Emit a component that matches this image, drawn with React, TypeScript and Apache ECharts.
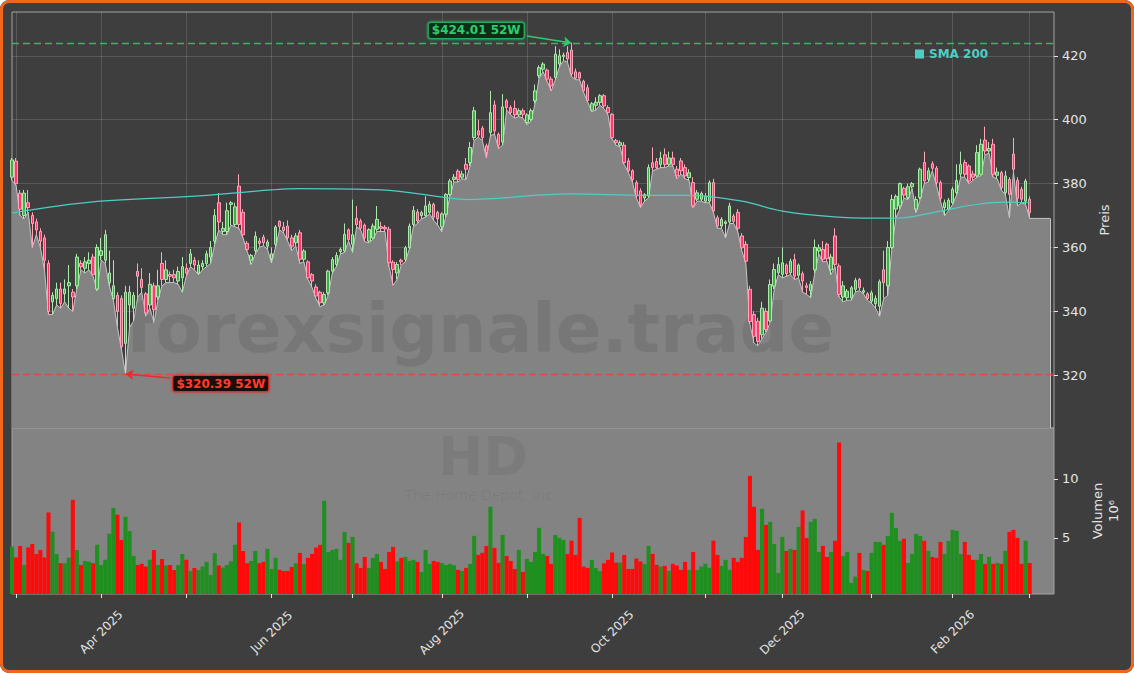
import React, { useEffect, useRef } from 'react';
import * as echarts from 'echarts';

// ---------------- DATA ----------------
const START_DATE = '2025-02-28';
const HOLIDAYS = ['2025-04-18', '2025-05-26', '2025-06-19', '2025-07-04', '2025-09-01', '2025-11-27', '2025-12-25', '2026-01-01', '2026-01-19', '2026-02-16'];
const EXTRA_SLOTS = 6; // empty trading-day slots after the last candle
const AREA_EXTENSION = 5; // flat area continuation after last candle

// [open, close, low, high]
const ohlc: [number, number, number, number][] = [
  [382, 387.4, 381, 388],
  [387, 380, 379.5, 388], [377, 372, 370, 378], [370, 377, 369, 378], [374, 372.5, 371, 378], [370, 367.5, 360, 371],
  [368, 365.5, 364, 369], [365, 362, 360, 366], [363, 356, 353, 364], [355, 340, 339, 356], [343, 345, 339, 346],
  [344, 347, 342, 349], [347, 342.5, 341, 349], [345.5, 347, 343, 350], [348, 349, 341, 354.5], [346, 344.5, 340, 347],
  [348, 357, 347, 358], [355, 354, 353, 356], [353.5, 355.5, 352, 357], [355, 356, 353, 358.5], [357, 351.5, 351, 358],
  [347, 360, 346.5, 361], [357.5, 359, 356, 363], [356, 364, 355, 365.5], [349, 352, 348, 359], [344, 348, 343.5, 356],
  [345, 340, 335, 346], [344, 329, 328, 345], [330, 346, 320.39, 348], [342, 346, 335, 348], [341, 345, 337, 346],
  [352.5, 351, 344.5, 355], [350, 347.5, 346, 353.5], [345.5, 339.5, 338.5, 346], [342, 348.5, 341, 352], [348, 340.5, 336.5, 349],
  [344.5, 348, 343.5, 353], [355, 350, 348, 358.5], [350, 353, 349, 356], [351.5, 351, 349, 352.5], [351.5, 350.5, 349, 353],
  [349.5, 352.5, 348.5, 354], [350.5, 354, 346, 357], [353.5, 352, 351, 355], [355, 358, 354, 359.5], [356, 354.5, 353, 357],
  [352, 354.5, 351.5, 356], [354, 355, 353, 356], [355, 358, 354, 359], [357, 360, 355, 362], [362, 370, 361, 372],
  [374, 368, 365.5, 377], [365, 366, 364, 368], [365, 371.5, 364, 374], [373.5, 374, 367, 374.5], [367.2, 372.7, 366.5, 374],
  [379.2, 367.2, 366, 382.9], [371, 364, 363, 372], [361.3, 359.4, 358.9, 362], [356, 357.5, 354.7, 358], [359, 363.5, 358, 365],
  [362, 361.3, 360, 363], [363.2, 361.5, 360.5, 364], [360.4, 361.7, 359.5, 362.5], [356.5, 358, 355.2, 360], [361, 366.4, 360, 367],
  [368.2, 366.6, 365.5, 368.5], [366.4, 365.3, 364.5, 368], [366.7, 363, 362, 368.5], [363, 360.4, 359, 364], [361.5, 363.6, 360.5, 364.5],
  [364.6, 356.3, 355, 365.5], [356.3, 358.9, 355.5, 359.5], [355.5, 350.5, 350, 356], [351.5, 349.5, 347.5, 352], [347.6, 344.8, 344, 348.5],
  [346, 342.7, 341.5, 346.5], [342.7, 345.3, 342, 346], [345.8, 352.6, 345, 353], [352.6, 356.2, 352, 357], [354.7, 357.5, 354, 358.5],
  [358.7, 359.4, 358, 360], [358.9, 364.1, 358.5, 367.5], [365.5, 362.5, 362, 366], [361, 364, 358.5, 375], [369.1, 367.2, 366.5, 373],
  [368.3, 366, 365.5, 369], [367, 363, 361.8, 367.5], [362, 365.6, 361.5, 366], [363, 366.7, 362.5, 367.5], [365.7, 368.8, 365, 373],
  [366.5, 366, 365, 368], [366.3, 365.8, 365, 367], [365.7, 355.2, 354, 366.5], [355.4, 353.1, 348.2, 356], [352, 354.7, 350, 355.5],
  [356, 355.5, 354.5, 356.5], [356.3, 359.9, 355.5, 360.5], [359.9, 366.7, 359.5, 367.5], [367.2, 371.6, 366.5, 373], [371.1, 368.3, 367.5, 372],
  [370, 370.9, 369, 371.5], [370, 373, 369.5, 376], [371, 373.5, 370.5, 374.5], [373.5, 369.5, 368.5, 374], [371, 369, 367, 371.5],
  [366.5, 370.5, 365, 371], [370.4, 376.6, 369.5, 377], [376.6, 380.8, 376, 381.5], [381.3, 382, 380.5, 383], [383.9, 381.3, 380.5, 384.5],
  [382, 383, 381.5, 384], [386, 384.5, 381.3, 388], [386.6, 391.3, 385.5, 393], [394.4, 402.8, 393.5, 404], [396.5, 395.2, 394.5, 400],
  [397.3, 394.4, 393.5, 398], [391.8, 389.7, 388, 392.5], [396, 402.2, 395, 409], [404.6, 396.5, 395.5, 406], [395.4, 392, 391, 396],
  [393, 404, 392, 408], [405.9, 403.8, 403, 406.5], [403.8, 402.2, 401.5, 404.5], [403.5, 401.5, 400.5, 406], [401.5, 402.8, 401, 403.5],
  [402.8, 401.7, 400.5, 403.5], [399.1, 401.5, 398.5, 402], [400.1, 402.8, 399.5, 403.5], [405.9, 409, 405, 411], [413.7, 416.3, 413, 417],
  [415.8, 417.4, 415, 418], [415.5, 412.7, 412, 416], [412.7, 410.6, 409, 413.5], [413.2, 420.5, 412.5, 423], [417.4, 420, 416.5, 422],
  [419.8, 420.2, 418.5, 421], [421, 419, 418, 423], [421.8, 414.3, 413.5, 424.01], [415, 413, 412.5, 416], [414.7, 413, 412.5, 415],
  [412, 409, 408.5, 412.5], [410, 406, 405.5, 411], [403, 405, 402.5, 405.5], [404.5, 405.5, 403, 407], [405.4, 407.5, 404.5, 408],
  [407.5, 404.3, 403.5, 408], [403.8, 402.2, 401.5, 404.5], [401.7, 394.4, 394, 402], [393.5, 392.8, 392, 394], [392, 392.8, 391.5, 393.5],
  [392, 386.6, 386, 393], [387.1, 384, 383.5, 388], [384, 381.3, 380.5, 384.5], [380.3, 376.1, 375.5, 381], [377.7, 373.5, 372.5, 378.5],
  [375.5, 376.6, 374.5, 377], [376.1, 385, 375.5, 386], [386.5, 385, 384, 391.3], [386.9, 385, 384.5, 388], [386, 388, 385, 390],
  [389, 386, 385, 391], [386, 388, 385.5, 390], [388, 386, 385.5, 390], [384.5, 382.4, 381.5, 385.5], [387.1, 384, 383, 388],
  [385, 382.4, 381.5, 386], [381.9, 383.4, 381, 384.5], [380.3, 373, 372.5, 382], [375.1, 377.1, 374.5, 378], [375.1, 376.9, 374.5, 377.5],
  [374.5, 376.1, 374, 377], [374.5, 380.3, 374, 381], [380.3, 371.4, 371, 381.5], [369.3, 366.7, 366, 370], [366.7, 368.8, 366, 369.5],
  [367.5, 368, 363, 368.5], [368, 373, 367.5, 374], [369.8, 368.2, 367.5, 370.5], [371, 366, 365, 372], [363.6, 359.9, 359, 364.5],
  [361, 355.7, 355, 362], [346.9, 336.8, 336, 348], [339, 332.2, 330.1, 340], [336.9, 330.6, 329.2, 338], [332.7, 341, 331.5, 343],
  [340, 334.3, 333.5, 341], [337, 348.4, 336.5, 350], [347.9, 353.1, 347, 355], [352.1, 354.7, 351.5, 357], [351.6, 355.2, 350.5, 360],
  [354.5, 351.8, 351, 355], [352.1, 355.7, 351.5, 356.5], [356.2, 351, 350, 358], [351.3, 354.5, 350.5, 355], [351.8, 349.5, 346, 352.5],
  [348, 347.5, 345.3, 349], [346.5, 348.5, 344.3, 349.5], [353, 360, 352, 362.5], [358.9, 359.9, 358, 361], [359.4, 356.3, 355.5, 362],
  [361, 356.5, 355.7, 361.5], [353, 357, 351.5, 358], [363.6, 354.7, 354, 366], [354.2, 345.3, 344.5, 355], [344.5, 348, 343, 349.5],
  [344.3, 346.3, 343.5, 347], [344.2, 347.4, 343.5, 348], [346.9, 349.7, 346, 350.5], [350, 347.4, 346.5, 350.5], [346, 346.5, 345.5, 347.5],
  [345.5, 344, 343.5, 346], [343.2, 345.8, 342.5, 346.5], [342.4, 344, 341, 345], [341.6, 349.3, 338.5, 350], [353, 349, 344, 359],
  [348, 360, 345, 362], [360, 375, 359.5, 376.5], [372, 376, 369.3, 376.6], [373, 380, 372, 380.3], [378.5, 376.4, 375.5, 379],
  [375.6, 379, 375, 380], [379, 380, 378.5, 380.5], [372, 375, 371, 376], [375.6, 384.5, 375, 385], [386.6, 380.8, 380, 390],
  [381.3, 384, 380.5, 385], [386.2, 384.8, 384, 387], [384.8, 380.3, 379.5, 385.5], [380.3, 375.4, 374.5, 381], [372.5, 374, 370, 375],
  [372, 374.8, 371.5, 375.5], [374, 378.2, 373.5, 379], [377.2, 381, 376.5, 386], [383, 386, 382, 390], [386.6, 382.9, 382, 387.5],
  [385.5, 380.8, 380, 386], [383, 382, 381, 384], [382.4, 389.7, 382, 392], [382.9, 392.3, 382.5, 394], [393.6, 390.2, 389, 397.8],
  [390.2, 391, 389.5, 393], [392.3, 382.9, 382, 394], [382.6, 383.6, 381.5, 385], [383.4, 378.7, 378, 384], [377.2, 382.4, 376.5, 384],
  [381.3, 376.6, 369.3, 382], [389.2, 384.5, 383.5, 394.3], [381, 375.4, 373, 382], [378.2, 375.1, 374, 379], [374.5, 380.8, 373.5, 381.5],
  [375.1, 370.9, 369.1, 376],
];

// volume in millions
const volumes: number[] = [
  4.27,
  3.33, 4.32, 2.71, 4.18, 4.49, 3.64, 3.98, 3.33, 7.15, 5.51,
  3.64, 2.85, 2.85, 3.31, 8.22, 3.98, 2.71, 3.05, 2.97, 2.85,
  4.41, 2.71, 3.14, 5.34, 7.54, 6.95, 4.83, 6.78, 5.59, 3.47,
  2.71, 2.8, 2.57, 3.14, 3.98, 2.71, 3.22, 2.66, 2.71, 2.29,
  2.71, 3.64, 3.14, 2.2, 2.46, 2.29, 2.57, 2.97, 1.86, 3.7,
  2.66, 2.49, 2.71, 3.02, 4.41, 6.3, 3.9, 2.85, 3.05, 3.9,
  2.85, 2.97, 4.07, 2.37, 3.31, 2.29, 2.2, 2.2, 2.54, 2.85,
  3.73, 2.8, 3.31, 3.64, 4.18, 4.41, 8.14, 3.81, 3.98, 4.07,
  3.14, 5.51, 4.58, 5.08, 2.85, 2.46, 3.39, 2.46, 3.31, 3.64,
  2.97, 2.37, 3.81, 4.24, 3.02, 3.31, 3.39, 3.05, 3.14, 2.97,
  2.12, 3.98, 2.8, 3.05, 2.97, 2.88, 2.71, 2.8, 2.68, 2.29,
  2.2, 2.46, 2.8, 5.17, 3.56, 3.73, 4.32, 7.63, 4.15, 2.88,
  5.25, 3.47, 3.05, 2.37, 3.98, 2.12, 3.22, 2.97, 3.81, 5.85,
  3.64, 3.47, 2.8, 5.25, 5.0, 4.83, 3.64, 4.77, 3.56, 6.69,
  2.57, 2.46, 3.14, 2.46, 2.2, 2.85, 3.14, 3.76, 2.91, 2.91,
  3.56, 2.37, 2.37, 3.25, 3.0, 2.8, 4.32, 3.64, 2.71, 2.57,
  2.63, 2.2, 2.8, 2.66, 2.29, 2.97, 2.29, 3.81, 2.29, 2.57,
  2.8, 2.46, 4.77, 3.56, 2.63, 3.14, 2.29, 3.31, 2.97, 3.31,
  5.08, 10.25, 7.63, 3.98, 7.46, 6.1, 6.36, 4.49, 2.03, 5.08,
  3.9, 4.07, 3.98, 5.93, 7.32, 5.0, 6.36, 6.61, 3.81, 4.32,
  3.39, 3.81, 4.75, 13.08, 3.47, 3.81, 1.19, 1.72, 3.73, 2.29,
  2.2, 3.73, 4.66, 4.66, 4.41, 5.17, 7.12, 5.85, 4.75, 4.92,
  2.88, 3.64, 5.34, 5.17, 4.75, 3.9, 3.39, 3.31, 4.66, 3.64,
  4.75, 5.68, 5.59, 3.64, 4.66, 3.56, 3.14, 3.14, 3.64, 2.8,
  3.39, 2.8, 2.88, 2.8, 3.9, 5.51, 5.68, 5.0, 2.8, 4.75,
  2.88,
];

// SMA 200 read at sample positions: [trading-day index, value]
const sma200Points: [number, number][] = [
  [0, 370.8], [21, 374.4], [44, 376], [64, 378], [71, 378.4], [91, 378], [107, 375.6], [112, 375],
  [138, 376.8], [156, 376.3], [167, 376.3], [180, 374.5], [190, 371.4], [204, 369.5], [212, 369.2],
  [218, 369.2], [229, 371.4], [237, 373.3], [245, 374.2], [251, 374],
];

const PRICE_TICKS = [320, 340, 360, 380, 400, 420];
const VOLUME_TICKS = [5, 10];
const PRICE_MIN = 303.5;
const PRICE_MAX = 433.7;
const VOL_MIN = 0.25;
const VOL_MAX = 14.3;
const LABEL_MONTHS = [1, 3, 5, 7, 9, 11]; // Feb, Apr, Jun, Aug, Oct, Dec (0-based)
const MONTH_NAMES = ['Jan', 'Feb', 'Mar', 'Apr', 'May', 'Jun', 'Jul', 'Aug', 'Sep', 'Oct', 'Nov', 'Dec'];
const WATERMARK = 'forexsignale.trade';
const TICKER = 'HD';
const COMPANY = 'The Home Depot, Inc.';

// ---------------- STYLE ----------------
const FONT = 'DejaVu Sans';
const BG = '#3e3e3e';
const AREA = '#838383';
const GRID_LINE = 'rgba(255,255,255,0.14)';
const FRAME = '#a2a2a2';
const TEXT = '#e4e4e4';
const TEAL = '#4ecdc4';
const GREEN_ANN = '#2ecc71';
const RED_ANN = '#ff3b30';

function buildDates(start: string, count: number, holidays: string[]): string[] {
  const out: string[] = [];
  const d = new Date(start + 'T00:00:00Z');
  while (out.length < count) {
    const dow = d.getUTCDay();
    const iso = d.toISOString().slice(0, 10);
    if (dow !== 0 && dow !== 6 && holidays.indexOf(iso) < 0) out.push(iso);
    d.setUTCDate(d.getUTCDate() + 1);
  }
  return out;
}

export default function App() {
  const ref = useRef<HTMLDivElement>(null);

  useEffect(() => {
    document.body.style.margin = '0';
    if (!ref.current) return;
    const chart = echarts.init(ref.current, undefined, { renderer: 'svg' });

    const dates = buildDates(START_DATE, ohlc.length + EXTRA_SLOTS, HOLIDAYS);
    const monthStart = new Set<number>();
    const labelIdx = new Set<number>();
    for (let i = 1; i < dates.length; i++) {
      if (dates[i].slice(5, 7) !== dates[i - 1].slice(5, 7)) {
        monthStart.add(i);
        const m = parseInt(dates[i].slice(5, 7), 10) - 1;
        if (LABEL_MONTHS.indexOf(m) >= 0) labelIdx.add(i);
      }
    }

    const lows = ohlc.map((c) => c[2]);
    const highs = ohlc.map((c) => c[3]);
    const lastLow = lows[lows.length - 1];
    const areaData: number[] = lows.concat(new Array(AREA_EXTENSION).fill(lastLow));
    const areaEnd = areaData.length - 1;

    const high52 = Math.max(...highs);
    const low52 = Math.min(...lows);
    const highIdx = highs.indexOf(high52);
    const lowIdx = lows.indexOf(low52);

    const volData = volumes.map((v, i) => ({
      value: v,
      itemStyle: { color: ohlc[i][1] >= ohlc[i][0] ? '#1f8f1f' : '#ff0a0a' },
    }));

    const labelBox = (color: string, bg: string, border: string) => ({
      show: true,
      position: 'inside',
      color,
      backgroundColor: bg,
      borderColor: border,
      borderWidth: 1.2,
      borderRadius: 2,
      padding: [2, 3, 1, 3],
      fontSize: 12,
      fontWeight: 'bold',
      fontFamily: FONT,
      shadowColor: border,
      shadowBlur: 3,
    });

    const option: any = {
      animation: false,
      backgroundColor: 'transparent',
      textStyle: { fontFamily: FONT },
      legend: {
        data: ['SMA 200'],
        left: 915,
        top: 48,
        padding: 0,
        icon: 'rect',
        itemWidth: 9,
        itemHeight: 9,
        selectedMode: false,
        textStyle: { color: TEAL, fontWeight: 'bold', fontSize: 12, fontFamily: FONT },
      },
      grid: [
        { left: 12, top: 12, width: 1042, height: 416, show: true, borderColor: FRAME, borderWidth: 1, backgroundColor: 'transparent', outerBoundsMode: 'none' },
        { left: 12, top: 428, width: 1042, height: 166, show: true, borderColor: FRAME, borderWidth: 1, backgroundColor: AREA, outerBoundsMode: 'none' },
      ],
      xAxis: [
        {
          type: 'category', gridIndex: 0, data: dates, boundaryGap: false,
          axisLine: { show: false }, axisTick: { show: false }, axisLabel: { show: false },
          splitLine: { show: true, interval: (i: number) => monthStart.has(i), lineStyle: { color: GRID_LINE, width: 1 } },
        },
        {
          type: 'category', gridIndex: 1, data: dates, boundaryGap: false,
          axisLine: { show: false },
          axisTick: { show: true, interval: (i: number) => monthStart.has(i), length: 4, lineStyle: { color: TEXT } },
          axisLabel: {
            show: true,
            interval: (i: number) => labelIdx.has(i),
            rotate: 45,
            align: 'center',
            verticalAlign: 'middle',
            margin: 38,
            color: TEXT,
            fontSize: 12,
            fontFamily: FONT,
            formatter: (v: string) => `${MONTH_NAMES[parseInt(v.slice(5, 7), 10) - 1]} ${v.slice(0, 4)}`,
          },
          splitLine: { show: false },
        },
      ],
      yAxis: [
        {
          type: 'value', gridIndex: 0, position: 'right', min: PRICE_MIN, max: PRICE_MAX, splitNumber: 6, scale: true,
          axisLine: { show: false },
          axisTick: { show: true, length: 4, lineStyle: { color: TEXT }, customValues: PRICE_TICKS },
          axisLabel: {
            color: TEXT, fontSize: 13, fontFamily: FONT, margin: 8, customValues: PRICE_TICKS,
            formatter: (v: number) => (PRICE_TICKS.indexOf(v) >= 0 ? String(v) : ''),
          },
          splitLine: { show: true, lineStyle: { color: GRID_LINE, width: 1 } },
          name: 'Preis', nameLocation: 'middle', nameRotate: 90, nameGap: 42,
          nameTextStyle: { color: TEXT, fontSize: 13, fontFamily: FONT },
        },
        {
          type: 'value', gridIndex: 1, position: 'right', min: VOL_MIN, max: VOL_MAX, splitNumber: 3,
          axisLine: { show: false },
          axisTick: { show: true, length: 4, lineStyle: { color: TEXT }, customValues: VOLUME_TICKS },
          axisLabel: {
            color: TEXT, fontSize: 13, fontFamily: FONT, margin: 8, customValues: VOLUME_TICKS,
            formatter: (v: number) => (VOLUME_TICKS.indexOf(v) >= 0 ? String(v) : ''),
          },
          splitLine: { show: false },
          name: 'Volumen\n10\u2076', nameLocation: 'middle', nameRotate: 90, nameGap: 30,
          nameTextStyle: { color: TEXT, fontSize: 13, fontFamily: FONT, lineHeight: 16 },
        },
      ],
      graphic: [
        {
          type: 'text', x: 480, y: 328, z: 1.5, silent: true,
          style: { text: WATERMARK, fontSize: 68, fontWeight: 'bold', fontFamily: FONT, fill: 'rgba(0,0,0,0.085)', align: 'center', verticalAlign: 'middle' },
        },
        {
          type: 'text', x: 483, y: 456, z: 1.5, silent: true,
          style: { text: TICKER, fontSize: 54, fontWeight: 'bold', fontFamily: FONT, fill: 'rgba(0,0,0,0.055)', align: 'center', verticalAlign: 'middle' },
        },
        {
          type: 'text', x: 481, y: 495, z: 1.5, silent: true,
          style: { text: COMPANY, fontSize: 14, fontFamily: FONT, fill: 'rgba(0,0,0,0.06)', align: 'center', verticalAlign: 'middle' },
        },
      ],
      series: [
        {
          name: 'Low', type: 'line', xAxisIndex: 0, yAxisIndex: 0, data: areaData, z: 1,
          symbol: 'none', showSymbol: false, silent: true,
          lineStyle: { color: '#c6c6c6', width: 1 },
          areaStyle: { color: AREA, opacity: 1, origin: 'start' },
          markLine: {
            silent: true, symbol: ['none', 'none'], label: { show: false },
            lineStyle: { color: '#c6c6c6', width: 1, type: 'solid' },
            data: [[{ coord: [areaEnd, lastLow] }, { coord: [areaEnd, PRICE_MIN] }]],
          },
        },
        {
          name: 'OHLC', type: 'candlestick', xAxisIndex: 0, yAxisIndex: 0, data: ohlc, z: 3,
          barWidth: 3, silent: true,
          itemStyle: {
            color: '#43ad48', color0: '#ff3a6a',
            borderColor: '#aee8ae', borderColor0: '#ffa6bb', borderWidth: 1,
          },
          markLine: {
            silent: true, symbol: ['none', 'none'], label: { show: false },
            data: [
              { yAxis: high52, lineStyle: { color: GREEN_ANN, type: [7, 4], width: 1.3, opacity: 0.85 } },
              { yAxis: low52, lineStyle: { color: '#e8453c', type: [7, 4], width: 1.3, opacity: 0.9 } },
              [
                { coord: [highIdx - 11, high52 + 2.2], symbol: 'none', lineStyle: { color: GREEN_ANN, width: 1.5, type: 'solid' } },
                { coord: [highIdx, high52], symbol: 'arrow', symbolSize: 8 },
              ],
              [
                { coord: [lowIdx + 11, low52 - 1.25], symbol: 'none', lineStyle: { color: '#ee2a2a', width: 1.5, type: 'solid' } },
                { coord: [lowIdx, low52], symbol: 'arrow', symbolSize: 8 },
              ],
            ],
          },
          markPoint: {
            silent: true,
            data: [
              {
                coord: [highIdx - 24, high52 + 3.9], symbol: 'rect', symbolSize: 1,
                itemStyle: { color: 'rgba(0,0,0,0)' },
                label: { ...labelBox(GREEN_ANN, '#0c2e17', '#27ae60'), formatter: `$${high52.toFixed(2)} 52W`, offset: [2, 0] },
              },
              {
                coord: [lowIdx + 23, low52 - 3], symbol: 'rect', symbolSize: 1,
                itemStyle: { color: 'rgba(0,0,0,0)' },
                label: { ...labelBox(RED_ANN, '#1c0c0c', '#d9302a'), formatter: `$${low52.toFixed(2)} 52W`, offset: [2, 0] },
              },
            ],
          },
        },
        {
          name: 'SMA 200', type: 'line', xAxisIndex: 0, yAxisIndex: 0, data: sma200Points, z: 4,
          smooth: 0.4, symbol: 'none', showSymbol: false, silent: true,
          lineStyle: { color: TEAL, width: 1.2 }, itemStyle: { color: TEAL },
        },
        {
          name: 'Volumen', type: 'bar', xAxisIndex: 1, yAxisIndex: 1, data: volData, z: 3,
          barCategoryGap: '0%', silent: true,
        },
      ],
    };

    chart.setOption(option);
    return () => chart.dispose();
  }, []);

  return (
    <div style={{ position: 'relative', width: 1134, height: 673, background: BG, borderRadius: 9, overflow: 'hidden' }}>
      <div ref={ref} style={{ position: 'absolute', left: 0, top: 0, width: 1134, height: 673 }} />
      <div style={{ position: 'absolute', left: 0, top: 0, right: 0, bottom: 0, border: '3px solid #f0661a', borderRadius: 9, pointerEvents: 'none' }} />
    </div>
  );
}
